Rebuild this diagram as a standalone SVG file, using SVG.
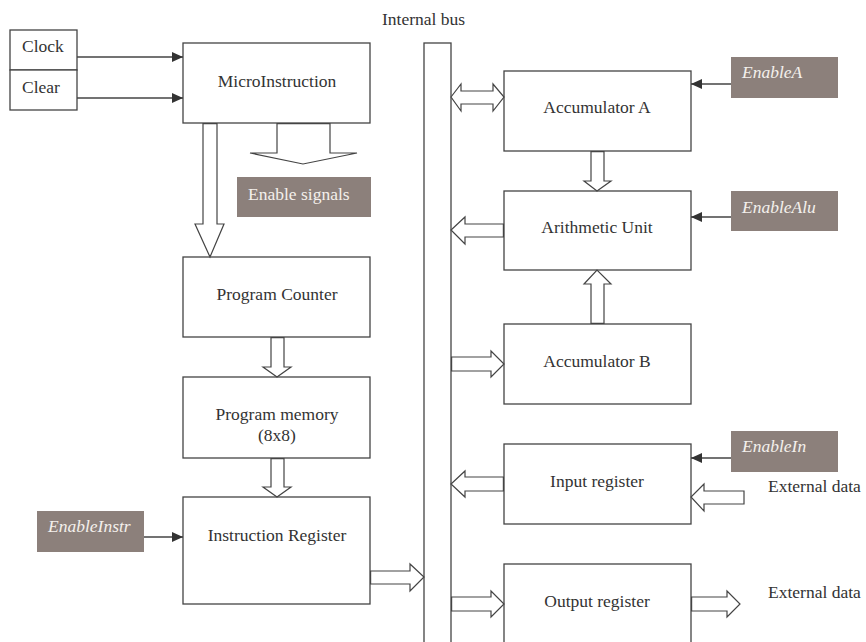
<svg xmlns="http://www.w3.org/2000/svg" width="866" height="642" viewBox="0 0 866 642">
<defs>
<style>
text{font-family:"Liberation Serif","Times New Roman",serif;font-size:17.5px;fill:#333}
.c{text-anchor:middle}
.box{fill:#fff;stroke:#444;stroke-width:1.3}
.tag{fill:#8c807b}
.tag-t{fill:#f4f0ec;font-style:italic}
.tag-n{fill:#f4f0ec}
.fat{fill:#fff;stroke:#444;stroke-width:1.2;stroke-linejoin:miter}
.sig{stroke:#444;stroke-width:1.3;fill:none}
</style>
<marker id="ah" markerUnits="userSpaceOnUse" markerWidth="12" markerHeight="10" refX="11" refY="5" orient="auto">
<path d="M0,0 L11,5 L0,10 z" fill="#333"/>
</marker>
</defs>
<rect width="866" height="642" fill="#fff"/>

<g id="clock">
<rect class="box" x="10" y="30" width="67" height="40"/>
<text x="22" y="52">Clock</text>
</g>
<g id="clear">
<rect class="box" x="10" y="70" width="67" height="40"/>
<text x="22" y="93">Clear</text>
</g>
<g id="microinstruction">
<rect class="box" x="183" y="43" width="187" height="80"/>
<text class="c" x="277" y="87">MicroInstruction</text>
</g>
<g id="enable-signals">
<rect class="tag" x="237" y="177" width="134" height="40"/>
<text class="tag-n" x="248" y="200">Enable signals</text>
</g>
<g id="program-counter">
<rect class="box" x="183" y="257" width="187" height="80"/>
<text class="c" x="277" y="300">Program Counter</text>
</g>
<g id="program-memory">
<rect class="box" x="183" y="377" width="187" height="81"/>
<text class="c" x="277" y="420">Program memory</text>
<text class="c" x="277" y="441">(8x8)</text>
</g>
<g id="instruction-register">
<rect class="box" x="183" y="497" width="187" height="107"/>
<text class="c" x="277" y="541">Instruction Register</text>
</g>
<g id="enable-instr">
<rect class="tag" x="37" y="511" width="107" height="41"/>
<text class="tag-t" x="48" y="532">EnableInstr</text>
</g>
<g id="internal-bus">
<rect class="box" x="424" y="43" width="27" height="620"/>
<text x="382" y="25">Internal bus</text>
</g>
<g id="accumulator-a">
<rect class="box" x="504" y="71" width="187" height="80"/>
<text class="c" x="597" y="113">Accumulator A</text>
</g>
<g id="enable-a">
<rect class="tag" x="731" y="57" width="107" height="41"/>
<text class="tag-t" x="742" y="78">EnableA</text>
</g>
<g id="arithmetic-unit">
<rect class="box" x="504" y="191" width="187" height="79"/>
<text class="c" x="597" y="233">Arithmetic Unit</text>
</g>
<g id="enable-alu">
<rect class="tag" x="731" y="191" width="107" height="40"/>
<text class="tag-t" x="742" y="213">EnableAlu</text>
</g>
<g id="accumulator-b">
<rect class="box" x="504" y="324" width="187" height="80"/>
<text class="c" x="597" y="367">Accumulator B</text>
</g>
<g id="input-register">
<rect class="box" x="504" y="444" width="187" height="80"/>
<text class="c" x="597" y="487">Input register</text>
</g>
<g id="enable-in">
<rect class="tag" x="731" y="431" width="107" height="41"/>
<text class="tag-t" x="742" y="452">EnableIn</text>
</g>
<g id="output-register">
<rect class="box" x="504" y="564" width="187" height="100"/>
<text class="c" x="597" y="607">Output register</text>
</g>
<g id="external-data-in">
<text x="768" y="492">External data</text>
</g>
<g id="external-data-out">
<text x="768" y="598">External data</text>
</g>

<g id="connectors">
<line class="sig" x1="77" y1="57" x2="183" y2="57" marker-end="url(#ah)"/>
<line class="sig" x1="77" y1="98" x2="183" y2="98" marker-end="url(#ah)"/>
<line class="sig" x1="144" y1="537" x2="183" y2="537" marker-end="url(#ah)"/>
<line class="sig" x1="731" y1="84" x2="691" y2="84" marker-end="url(#ah)"/>
<line class="sig" x1="731" y1="217" x2="691" y2="217" marker-end="url(#ah)"/>
<line class="sig" x1="731" y1="458" x2="691" y2="458" marker-end="url(#ah)"/>

<polygon class="fat" points="203,123.6 217,123.6 217,224 224,224 210,257 195,224 203,224"/>
<polygon class="fat" points="277,123.6 330,123.6 330,153 357,153 303,164 250,153 277,153"/>
<polygon class="fat" points="271,337.6 284,337.6 284,367 291,367 277,377 263,367 271,367"/>
<polygon class="fat" points="271,458.6 284,458.6 284,487 291,487 277,497 263,487 271,487"/>
<polygon class="fat" points="370.6,571 410,571 410,564 424,577 410,591 410,584 370.6,584"/>
<polygon class="fat" points="451,97 461,84 461,91 493,91 493,84 504,97 493,111 493,104 461,104 461,111"/>
<polygon class="fat" points="591,151.6 604,151.6 604,181 611,181 597,191 584,181 591,181"/>
<polygon class="fat" points="503.4,224 465,224 465,217 451,230 465,244 465,237 503.4,237"/>
<polygon class="fat" points="591,323.4 604,323.4 604,284 611,284 597,270 584,284 591,284"/>
<polygon class="fat" points="451.6,357 491,357 491,351 504,364 491,377 491,371 451.6,371"/>
<polygon class="fat" points="503.4,477 465,477 465,471 451,484 465,497 465,491 503.4,491"/>
<polygon class="fat" points="744,491 704,491 704,484 691,497 704,511 704,504 744,504"/>
<polygon class="fat" points="451.6,597 491,597 491,591 504,604 491,617 491,611 451.6,611"/>
<polygon class="fat" points="691.6,597 727,597 727,591 740,604 727,617 727,611 691.6,611"/>
</g>
</svg>
